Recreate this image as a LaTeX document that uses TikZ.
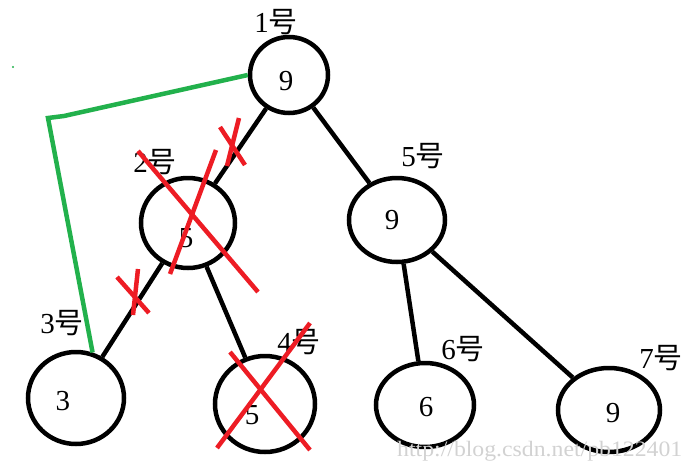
\documentclass[tikz,border=0pt]{standalone}
\usepackage{fontspec}
\setmainfont{Liberation Serif}
\newfontfamily\cjk{Noto Sans CJK SC}
\usetikzlibrary{shapes.geometric}
\definecolor{xred}{RGB}{237,28,36}
\definecolor{xgreen}{RGB}{34,177,76}
\definecolor{wm}{RGB}{210,210,210}
\begin{document}
\begin{tikzpicture}[x=1pt,y=-1pt,
  nd/.style={draw=black,line width=4.5pt,ellipse,inner sep=0pt,font=\fontsize{30}{30}\selectfont},
  lbl/.style={font=\fontsize{29}{29}\selectfont,inner sep=0pt,anchor=center},
  edge/.style={draw=black,line width=4.5pt},
  xx/.style={draw=xred,line width=4.5pt},
  gl/.style={draw=xgreen,line width=4.5pt}]
\useasboundingbox (0,0) rectangle (697,469);
% nodes
\node[nd,minimum width=78pt,minimum height=76pt] (n1) at (289,75) {};
\node[nd,minimum width=94pt,minimum height=90pt] (n2) at (188,223) {};
\node[nd,minimum width=96pt,minimum height=84pt] (n5) at (397,220) {};
\node[nd,minimum width=96pt,minimum height=92pt] (n3) at (76,398) {};
\node[nd,minimum width=100pt,minimum height=96pt] (n4) at (265,404) {};
\node[nd,minimum width=98pt,minimum height=84pt] (n6) at (425,405) {};
\node[nd,minimum width=102pt,minimum height=84pt] (n7) at (609,410) {};
% values
\node[lbl] (v1) at (286,81) {9};
\node[lbl] (v2) at (186,238) {5};
\node[lbl] (v5) at (392,220) {9};
\node[lbl] (v3) at (63,401) {3};
\node[lbl] (v4) at (252,415) {5};
\node[lbl] (v6) at (426,407) {6};
\node[lbl] (v7) at (613,413) {9};
% labels
\node[lbl] (l1) at (276,22) {1{\cjk 号}};
\node[lbl] (l2) at (155,162) {2{\cjk 号}};
\node[lbl] (l5) at (423,156) {5{\cjk 号}};
\node[lbl] (l3) at (62,323) {3{\cjk 号}};
\node[lbl] (l4) at (299,342) {4{\cjk 号}};
\node[lbl] (l6) at (463,349) {6{\cjk 号}};
\node[lbl] (l7) at (661,358) {7{\cjk 号}};
% edges
\draw[edge] (n1) -- (n2);
\draw[edge] (n1) -- (n5);
\draw[edge] (n2) -- (n3);
\draw[edge] (n2) -- (n4);
\draw[edge] (n5) -- (n6);
\draw[edge] (n5) -- (n7);
% green path
\coordinate (g1) at (48,118);
\coordinate (g2) at (64,116);
\draw[gl] (n1.west) -- (g2) -- (g1) -- (n3.70);
\fill[xgreen] (13,67) circle (1.2pt);
% red crosses
\draw[xx] (220,127) -- (245,165);
\draw[xx] (239,118) -- (227,166);
\draw[xx] (138,151) -- (258,292);
\draw[xx] (216,150) -- (170,274);
\draw[xx] (117,277) -- (149,313);
\draw[xx] (138,269) -- (133,315);
\draw[xx] (230,352) -- (310,450);
\draw[xx] (310,323) -- (217,448);
% watermark
\node[font=\fontsize{22}{22}\selectfont,text=wm,inner sep=0pt,anchor=west,xscale=1.08] (wmk) at (397,451) {http://blog.csdn.net/pb122401};
\end{tikzpicture}
\end{document}
